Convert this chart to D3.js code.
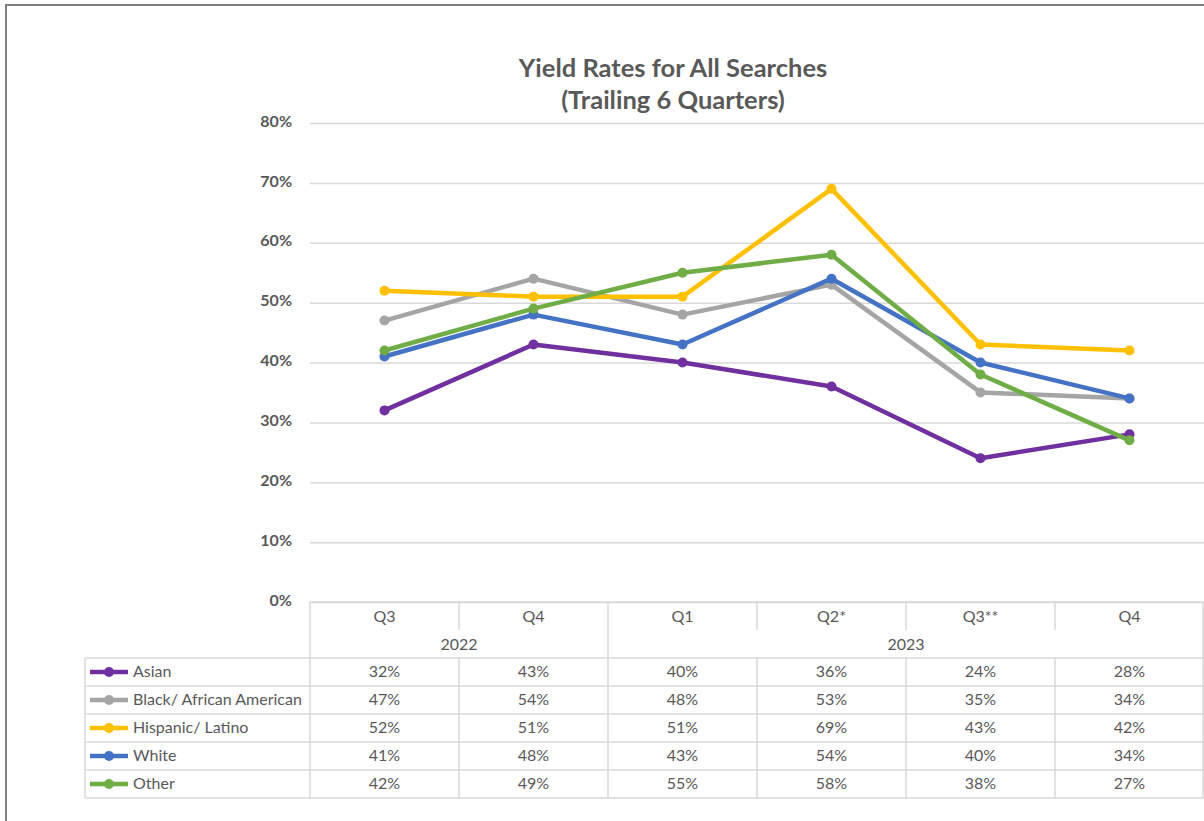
<!DOCTYPE html>
<html lang="en">
<head>
    <meta charset="UTF-8">
    <title>Yield Rates for All Searches</title>
    <script src="https://d3js.org/d3.v7.min.js"></script>
    <style>
        body { margin: 0; background: #fff; }
        text { font-family: Lato, "Open Sans", sans-serif; fill: #595959; }
        .axis-y text { font-size: 16px; font-weight: bold; }
        .axis-y .domain { display: none; }
        .grid line { stroke: #d9d9d9; stroke-width: 1.5; }
        .grid .domain { display: none; }
        .cell { font-size: 16px; }
        .tline { stroke: #d9d9d9; stroke-width: 1.5; }
    </style>
</head>
<body>
    <svg id="chart"></svg>

    <script>
        // quarters and years
        var quarters = ["Q3", "Q4", "Q1", "Q2*", "Q3**", "Q4"];
        var years = [
            { year: "2022", from: 0, to: 1 },
            { year: "2023", from: 2, to: 5 }
        ];
        var yTicks = [0, 0.1, 0.2, 0.3, 0.4, 0.5, 0.6, 0.7, 0.8];

        // series values (yield rate)
        var seriesNames = ["Asian", "Black/ African American", "Hispanic/ Latino", "White", "Other"];
        var asian    = [0.32, 0.43, 0.40, 0.36, 0.24, 0.28];
        var black    = [0.47, 0.54, 0.48, 0.53, 0.35, 0.34];
        var hispanic = [0.52, 0.51, 0.51, 0.69, 0.43, 0.42];
        var white    = [0.41, 0.48, 0.43, 0.54, 0.40, 0.34];
        var other    = [0.42, 0.49, 0.55, 0.58, 0.38, 0.27];
        var colors = ["#7030a0", "#a5a5a5", "#ffc000", "#4472c4", "#70ad47"];

        var series = [asian, black, hispanic, white, other].map(function(v, i) {
            return { name: seriesNames[i], values: v, color: colors[i] };
        });

        var width = 1204, height = 821;
        var plotLeft = 310, plotRight = 1204, plotTop = 123, plotBottom = 602;
        var headerH = 56, rowH = 28, tableLeft = 85;

        var svg = d3.select("#chart")
            .attr("width", width)
            .attr("height", height);

        // chart border
        svg.append("rect")
            .attr("x", 6).attr("y", 5)
            .attr("width", 1400).attr("height", 900)
            .attr("fill", "none")
            .attr("stroke", "#7f7f7f")
            .attr("stroke-width", 2);

        // title
        var title = svg.append("text")
            .attr("text-anchor", "middle")
            .style("font-size", "25.5px")
            .style("font-weight", "bold");
        title.append("tspan").attr("x", 673).attr("y", 77).text("Yield Rates for All Searches");
        title.append("tspan").attr("x", 673).attr("y", 109).text("(Trailing 6 Quarters)");

        var xScale = d3.scaleBand()
            .domain(d3.range(quarters.length))
            .range([plotLeft, plotRight]);
        var bw = xScale.bandwidth();
        function cx(i) { return xScale(i) + bw / 2; }

        var yScale = d3.scaleLinear()
            .domain([0, 0.8])
            .range([plotBottom, plotTop]);

        // gridlines
        svg.append("g")
            .attr("class", "grid")
            .attr("transform", "translate(" + plotLeft + ",0)")
            .call(d3.axisLeft(yScale).tickValues(yTicks).tickSize(-(plotRight - plotLeft)).tickFormat(""));

        // y axis labels
        svg.append("g")
            .attr("class", "axis-y")
            .attr("transform", "translate(" + 292 + ",0)")
            .call(d3.axisLeft(yScale).tickValues(yTicks).tickSize(0).tickPadding(0)
                .tickFormat(d3.format(".0%")))
            .selectAll("text").attr("dy", "0.2em");

        // lines
        var line = d3.line()
            .x(function(d, i) { return cx(i); })
            .y(function(d) { return yScale(d); });

        var sg = svg.selectAll(".series")
            .data(series)
            .enter().append("g")
            .attr("class", "series");

        sg.append("path")
            .attr("d", function(d) { return line(d.values); })
            .attr("fill", "none")
            .attr("stroke", function(d) { return d.color; })
            .attr("stroke-width", 4.5)
            .attr("stroke-linejoin", "round");

        sg.selectAll("circle")
            .data(function(d) { return d.values.map(function(v) { return { v: v, c: d.color }; }); })
            .enter().append("circle")
            .attr("cx", function(d, i) { return cx(i); })
            .attr("cy", function(d) { return yScale(d.v); })
            .attr("r", 5)
            .attr("fill", function(d) { return d.c; });

        // data table
        var tbl = svg.append("g");
        var tableTop = plotBottom;
        var rowsTop = tableTop + headerH;
        var tableBottom = rowsTop + rowH * series.length;

        // horizontal lines
        tbl.append("line").attr("class", "tline")
            .attr("x1", plotLeft).attr("x2", plotRight).attr("y1", tableTop).attr("y2", tableTop);
        d3.range(series.length + 1).forEach(function(r) {
            var y = rowsTop + r * rowH;
            tbl.append("line").attr("class", "tline")
                .attr("x1", tableLeft).attr("x2", plotRight).attr("y1", y).attr("y2", y);
        });
        // vertical lines
        tbl.append("line").attr("class", "tline")
            .attr("x1", tableLeft).attr("x2", tableLeft).attr("y1", rowsTop).attr("y2", tableBottom);
        d3.range(quarters.length + 1).forEach(function(i) {
            var x = i < quarters.length ? xScale(i) : plotRight - 1;
            var isYearEdge = years.some(function(y) { return y.from === i || y.to + 1 === i; });
            tbl.append("line").attr("class", "tline")
                .attr("x1", x).attr("x2", x)
                .attr("y1", isYearEdge ? tableTop : rowsTop)
                .attr("y2", tableBottom);
            if (!isYearEdge) {
                tbl.append("line").attr("class", "tline")
                    .attr("x1", x).attr("x2", x)
                    .attr("y1", tableTop).attr("y2", tableTop + 28);
            }
        });

        // quarter labels
        tbl.selectAll(".qlab")
            .data(quarters)
            .enter().append("text")
            .attr("class", "cell")
            .attr("x", function(d, i) { return cx(i); })
            .attr("y", tableTop + 20)
            .attr("text-anchor", "middle")
            .text(function(d) { return d; });

        // year labels
        tbl.selectAll(".ylab")
            .data(years)
            .enter().append("text")
            .attr("class", "cell")
            .attr("x", function(d) { return (xScale(d.from) + xScale(d.to) + bw) / 2; })
            .attr("y", tableTop + 48)
            .attr("text-anchor", "middle")
            .text(function(d) { return d.year; });

        // rows
        var rows = tbl.selectAll(".row")
            .data(series)
            .enter().append("g")
            .attr("transform", function(d, r) { return "translate(0," + (rowsTop + r * rowH) + ")"; });

        rows.append("line")
            .attr("x1", 90).attr("x2", 128)
            .attr("y1", 14).attr("y2", 14)
            .attr("stroke", function(d) { return d.color; })
            .attr("stroke-width", 4.5);
        rows.append("circle")
            .attr("cx", 109).attr("cy", 14).attr("r", 5)
            .attr("fill", function(d) { return d.color; });
        rows.append("text")
            .attr("class", "cell")
            .attr("x", 133).attr("y", 19)
            .text(function(d) { return d.name; });

        rows.selectAll(".val")
            .data(function(d) { return d.values; })
            .enter().append("text")
            .attr("class", "cell")
            .attr("x", function(d, i) { return cx(i); })
            .attr("y", 19)
            .attr("text-anchor", "middle")
            .text(function(d) { return d3.format(".0%")(d); });
    </script>
</body>
</html>
